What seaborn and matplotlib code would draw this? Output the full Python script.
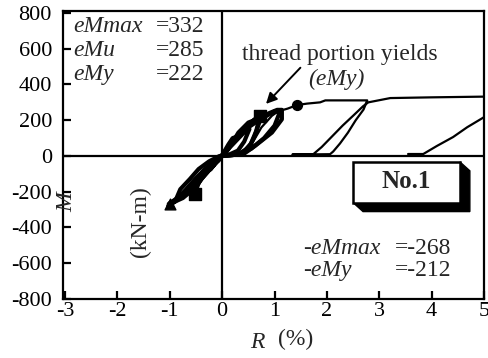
import matplotlib
matplotlib.use("Agg")
import matplotlib.pyplot as plt
from matplotlib.patches import Polygon, Rectangle
import seaborn as sns
import pandas as pd

# ---- data: drift ratio R (%) and moment M (kN-m) ----
# cyclic loops around the origin (positive half then negative half)
loop1_r = [0, 0.08, 0.16, 0.25, 0.20, 0.12, 0.03, -0.05, -0.12, -0.20, -0.26, -0.22, -0.12, 0]
loop1_m = [0, 25, 60, 105, 100, 65, 20, -15, -40, -65, -80, -75, -35, 0]

loop2_r = [0, 0.15, 0.30, 0.42, 0.52, 0.50, 0.38, 0.25, 0.12, 0,
           -0.15, -0.30, -0.45, -0.52, -0.58, -0.50, -0.38, -0.20, 0]
loop2_m = [0, 10, 30, 80, 150, 160, 120, 80, 40, 0,
           -40, -90, -150, -212, -200, -150, -90, -40, 0]

loop3_r = [0, 0.20, 0.40, 0.55, 0.65, 0.72, 0.68, 0.55, 0.40, 0.25, 0.10, 0,
           -0.10, -0.23, -0.40, -0.55, -0.60, -0.55, -0.45, -0.30, -0.12, 0]
loop3_m = [0, 5, 20, 70, 140, 222, 222, 185, 140, 95, 40, 0,
           -25, -73, -130, -200, -215, -186, -140, -80, -30, 0]

loop4_r = [0, 0.30, 0.50, 0.62, 0.74, 0.60, 0.45, 0.30, 0.15, 0]
loop4_m = [0, 8, 40, 110, 215, 200, 160, 115, 60, 5]

loop5_r = [0, 0.41, 0.63, 0.95, 1.14, 1.14, 1.05, 0.90, 0.70, 0.50, 0.31, 0.12, 0,
           -0.10, -0.23, -0.40, -0.55, -0.75, -1.00, -1.03, -0.90, -0.80, -0.62, -0.45, -0.25, -0.05, 0]
loop5_m = [0, 11, 57, 131, 205, 258, 258, 240, 210, 187, 131, 39, 0,
           -25, -73, -130, -186, -235, -268, -280, -255, -186, -130, -73, -30, 0, 0]

loop6_r = [0, 0.30, 0.55, 0.80, 1.00, 1.10, 1.00, 0.85, 0.65, 0.45, 0.25, 0.08, 0,
           -0.15, -0.32, -0.50, -0.68, -0.88, -0.98, -0.85, -0.70, -0.52, -0.35, -0.15, 0]
loop6_m = [0, 10, 40, 100, 170, 245, 250, 225, 190, 150, 100, 30, 0,
           -45, -95, -150, -205, -250, -265, -235, -190, -130, -80, -30, 0]

loop7_r = [0, -0.07, -0.23, -0.42, -0.61, -0.83, -1.02, -0.95, -0.74, -0.55, -0.36, -0.18, 0]
loop7_m = [0, -26, -63, -118, -174, -230, -268, -262, -215, -160, -105, -50, 0]

# final loading run with one large unloading/reloading excursion
final_r = [0, 0.30, 0.55, 0.75, 0.95, 1.07, 1.25, 1.43, 1.62, 1.87, 1.97, 2.40, 2.77,
           2.70, 2.55, 2.40, 2.25, 2.12, 2.06, 1.70, 1.34, 1.50, 1.74,
           1.90, 2.10, 2.30, 2.50, 2.69, 2.79, 3.00, 3.21, 4.00, 5.00]
final_m = [0, 15, 60, 160, 225, 250, 265, 285, 293, 300, 311, 311, 311,
           260, 200, 130, 70, 25, 10, 9, 8, 9, 10,
           50, 110, 170, 225, 278, 300, 312, 324, 328, 332]

# reloading branch after the excursion beyond R = 5 %
tail_r = [3.55, 3.84, 4.10, 4.41, 4.68, 5.00]
tail_m = [11, 11, 56, 106, 161, 217]

# characteristic points
ymark_r = [0.72, -0.52]
ymark_m = [222, -212]
umark_r = [1.43]
umark_m = [285]
maxneg_r = [-1.00]
maxneg_m = [-268]

x_ticks = [-3, -2, -1, 0, 1, 2, 3, 4, 5]
y_ticks = [-800, -600, -400, -200, 0, 200, 400, 600, 800]

pos_labels = ["eMmax", "eMu", "eMy"]
pos_values = ["=332", "=285", "=222"]
neg_labels = ["-eMmax", "-eMy"]
neg_values = ["=-268", "=-212"]

# ---- build tables ----
cycles = [(loop1_r, loop1_m), (loop2_r, loop2_m), (loop3_r, loop3_m),
          (loop4_r, loop4_m), (loop5_r, loop5_m), (loop6_r, loop6_m),
          (loop7_r, loop7_m)]
loops = pd.concat([pd.DataFrame({"R": r, "M": m, "cycle": i})
                   for i, (r, m) in enumerate(cycles)], ignore_index=True)
envelope = pd.concat([
    pd.DataFrame({"R": final_r, "M": final_m, "seg": 0}),
    pd.DataFrame({"R": tail_r, "M": tail_m, "seg": 1}),
], ignore_index=True)

sns.set_theme(style="ticks")
plt.rcParams["font.family"] = ["Liberation Serif", "DejaVu Serif"]
plt.rcParams["axes.unicode_minus"] = False

fig = plt.figure(figsize=(4.88, 3.58), dpi=100)
ax = fig.add_axes([63 / 488, 1 - 299 / 358, 421 / 488, 288 / 358])

ax.axhline(0, color="black", lw=1.6, zorder=1)
ax.axvline(0, color="black", lw=1.6, zorder=1)

sns.lineplot(data=loops, x="R", y="M", units="cycle", estimator=None, sort=False,
             color="black", lw=3.0, ax=ax, zorder=3)
sns.lineplot(data=envelope, x="R", y="M", units="seg", estimator=None, sort=False,
             color="black", lw=1.6, ax=ax, zorder=3)

ax.scatter(ymark_r, ymark_m, marker="s", s=75, color="black", zorder=5)
ax.scatter(umark_r, umark_m, marker="o", s=50, color="black", zorder=5)
ax.scatter(maxneg_r, maxneg_m, marker="^", s=60, color="black", zorder=5)

ax.set_xlim(-3.04, 5.0)
ax.set_ylim(-800, 811)
ax.set_xticks(x_ticks)
ax.set_yticks(y_ticks)
ax.set_xticklabels([str(t) for t in x_ticks])
ax.set_yticklabels([str(t) for t in y_ticks])
ax.tick_params(axis="both", direction="in", length=6, width=1.6, colors="black",
               labelsize=16)
ax.tick_params(axis="x", pad=2)
ax.tick_params(axis="y", pad=8)
for s in ax.spines.values():
    s.set_visible(True)
    s.set_linewidth(1.6)
    s.set_color("black")
ax.set_xlabel("")
ax.set_ylabel("")

# value annotations
for i, (lab, val) in enumerate(zip(pos_labels, pos_values)):
    y = 722 - i * 133
    ax.text(-2.84, y, lab, style="italic", fontsize=17, va="center", ha="left")
    ax.text(-1.26, y, val, fontsize=17, va="center", ha="left")
for i, (lab, val) in enumerate(zip(neg_labels, neg_values)):
    y = -517 - i * 122
    ax.text(1.55, y, lab, style="italic", fontsize=17, va="center", ha="left")
    ax.text(3.30, y, val, fontsize=17, va="center", ha="left")

ax.text(0.38, 567, "thread portion yields", fontsize=17, va="center", ha="left")
ax.text(1.64, 428, "(eMy)", style="italic", fontsize=17, va="center", ha="left")
ax.annotate("", xy=(0.80, 280), xytext=(1.53, 505),
            arrowprops=dict(arrowstyle="-|>", lw=1.4, color="black", mutation_scale=16))

# specimen tag with a solid drop shadow
x0, x1, yt, yb = 2.50, 4.54, -33, -261
dx, dy = 0.19, 50
shadow = Polygon([(x0, yb), (x1, yb), (x1, yt), (x1 + dx, yt - dy),
                  (x1 + dx, yb - dy), (x0 + dx, yb - dy)],
                 closed=True, facecolor="black", edgecolor="black", zorder=6)
ax.add_patch(shadow)
ax.add_patch(Rectangle((x0, yb), x1 - x0, yt - yb, facecolor="white",
                       edgecolor="black", lw=1.8, zorder=7))
ax.text((x0 + x1) / 2, (yt + yb) / 2 + 5, "No.1", fontsize=18, fontweight="bold",
        ha="center", va="center", zorder=8)

# axis titles
ax.text(-2.96, -256, "M", style="italic", fontsize=17, rotation=90,
        ha="center", va="center", clip_on=False)
ax.text(-1.56, -367, "(kN-m)", fontsize=17, rotation=90, ha="center", va="center")
fig.text(257 / 488, 1 - 342 / 358, "R", style="italic", fontsize=17, ha="center", va="center")
fig.text(296 / 488, 1 - 339 / 358, "(%)", fontsize=17, ha="center", va="center")

fig.savefig("out.png", dpi=100)
